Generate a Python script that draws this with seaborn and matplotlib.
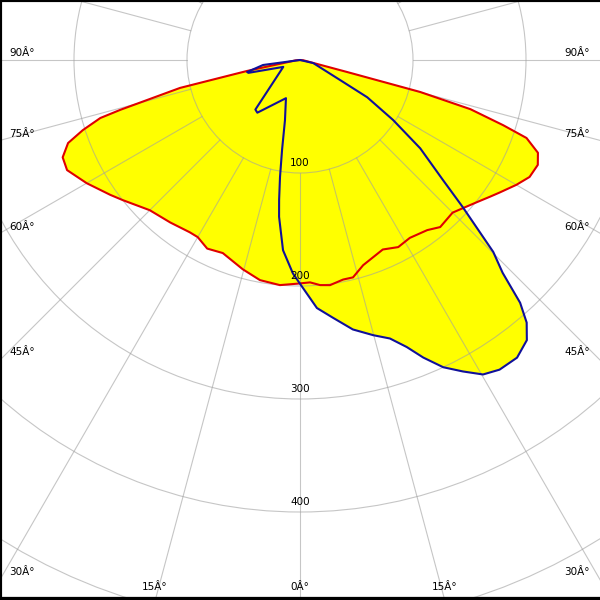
import numpy as np
import matplotlib
matplotlib.use('Agg')
import matplotlib.pyplot as plt
import seaborn as sns
from matplotlib.patches import Circle

# polar light distribution, angles in degrees (negative = left side), values in cd/klm
red_angles = [-90, -85, -80, -78.3, -76.9, -74.5, -73.8, -72.1, -70.3, -67.7, -64.7, -60,
              -54.6, -51.7, -45, -38.6, -32.6, -30, -26.2, -21.8, -15.3, -10.3, -5.1, -0.8,
              2.6, 5.1, 7.6, 11.1, 13.7, 17.1, 23.6, 27.7, 31.7, 36.8, 40, 45, 47.8, 51.3,
              54.2, 56.4, 60, 63, 66.2, 68.7, 71, 72.2, 73.9, 75.1, 75.7, 78, 85, 90]
red_values = [0, 4, 12, 48, 109, 165, 184, 202, 218, 227, 228, 218,
              206, 200, 188, 184, 181, 181, 186, 184, 192, 198, 200, 198,
              197, 200, 201, 198, 198, 190, 183, 187, 185, 188, 193, 191, 195, 201,
              207, 212, 221, 228, 230, 226, 212, 189, 157, 110, 43, 10, 3, 0]

blue_angles = [-90, -82.3, -77.2, -76, -67.6, -42, -39, -20.2, -14, -11.3, -9.7, -8.5,
               -7.6, -5.1, -1.9, 0, 3.9, 7.3, 11.1, 14.9, 17.9, 20.4, 22.5, 25, 27.6,
               30.2, 32.8, 36.1, 39, 40.8, 42.2, 43.6, 45.2, 47.9, 50, 53.7, 57.2, 61,
               63.4, 77, 90]
blue_values = [0, 33, 48, 47, 16, 59, 60, 36, 55, 81, 105, 125,
               140, 169, 189, 198, 220, 230, 243, 252, 259, 271, 285, 300, 311,
               322, 326, 326, 319, 307, 290, 260, 241, 194, 165, 132, 98, 68,
               40, 12, 0]

ring_values = [100, 200, 300, 400, 500]
ring_labels = ["100", "200", "300", "400"]
angle_labels = ["90Â°", "75Â°", "60Â°", "45Â°", "30Â°"]
bottom_labels = ["15Â°", "0Â°", "15Â°"]

S = 1.13  # pixels per cd/klm
CX, CY = 300, 60  # pole position in the picture


def px(x, y):
    return (x - CX) / S, (CY - y) / S


def to_xy(angles, values):
    th = np.radians(angles)
    v = np.asarray(values, dtype=float)
    return v * np.sin(th), -v * np.cos(th)


sns.set_style("white")
fig = plt.figure(figsize=(6, 6), dpi=100)
ax = fig.add_axes([0, 0, 1, 1])
ax.set_xlim(-300 / S, 300 / S)
ax.set_ylim(-540 / S, 60 / S)
ax.set_xticks([])
ax.set_yticks([])

rx, ry = to_xy(red_angles, red_values)
bx, by = to_xy(blue_angles, blue_values)
ax.fill(rx, ry, color='#ffff00', lw=0, zorder=1)
ax.fill(bx, by, color='#ffff00', lw=0, zorder=1)

# grid
grid_kw = dict(color='#a0a0a0', lw=0.8, alpha=0.6, zorder=2)
for r in ring_values:
    ax.add_patch(Circle((0, 0), r, fill=False, **grid_kw))
for a in range(0, 360, 15):
    th = np.radians(a)
    ax.plot([100 * np.sin(th), 700 * np.sin(th)], [-100 * np.cos(th), -700 * np.cos(th)], **grid_kw)

sns.lineplot(x=rx, y=ry, sort=False, estimator=None, color='#e00000', lw=1.5, ax=ax, zorder=3)
sns.lineplot(x=bx, y=by, sort=False, estimator=None, color='#10109a', lw=1.5, ax=ax, zorder=4)

txt = dict(fontsize=7.5, color='black', zorder=5, family='DejaVu Sans')
for r, lab in zip(ring_values, ring_labels):
    ax.text(0, -r + 5 / S, lab, ha='center', va='bottom', **txt)
for lab, yy in zip(angle_labels, [53, 134, 227, 352, 572]):
    ax.text(*px(9, yy), lab, ha='left', va='center', **txt)
    ax.text(*px(590, yy), lab, ha='right', va='center', **txt)
for lab, xx in zip(bottom_labels, [155, 300, 445]):
    ax.text(*px(xx, 587), lab, ha='center', va='center', **txt)

for side in ['left', 'top']:
    ax.spines[side].set_linewidth(3)
    ax.spines[side].set_color('black')
ax.spines['bottom'].set_linewidth(4.5)
ax.spines['bottom'].set_color('black')
ax.spines['right'].set_linewidth(0)
ax.spines['right'].set_visible(False)

plt.savefig("out.png", dpi=100)
plt.close()
